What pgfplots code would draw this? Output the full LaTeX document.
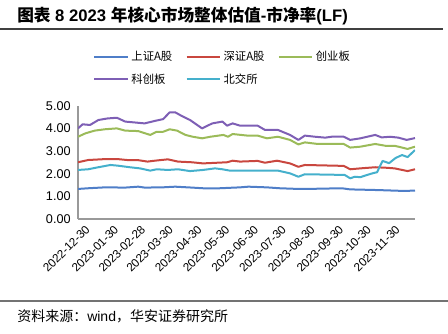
\documentclass[border=0pt]{standalone}
\usepackage{fontspec}
\setmainfont{Liberation Sans}
\newfontfamily\cjk{Noto Sans CJK SC}
\newfontfamily\cjkb{Noto Sans CJK SC Bold}
\usepackage{pgfplots}
\pgfplotsset{compat=1.18}
\definecolor{cBlue}{HTML}{4F7EC8}
\definecolor{cRed}{HTML}{C9473F}
\definecolor{cGreen}{HTML}{9BBB59}
\definecolor{cPurple}{HTML}{7E5FB5}
\definecolor{cCyan}{HTML}{45B0CC}
\begin{document}
\begin{tikzpicture}
\path[use as bounding box] (0,0) rectangle (336pt,250.5pt);
\node[anchor=west, inner sep=0pt, font=\fontsize{12.5}{14}\selectfont\bfseries] at (12.75pt,238.5pt)
 {{\cjkb 图表} 8 2023 {\cjkb 年核心市场整体估值}-{\cjkb 市净率}(LF)};
\draw[line width=1.1pt, black!75] (0pt,228.75pt) -- (332.25pt,228.75pt);
\draw[line width=0.9pt, black!55] (0pt,24.75pt) -- (336pt,24.75pt);
\node[anchor=west, inner sep=0pt, font=\fontsize{10.5}{12}\selectfont] at (12.75pt,13.5pt)
 {{\cjk 资料来源：}wind{\cjk ，华安证券研究所}};
\begin{axis}[
  at={(58.5pt,86.25pt)}, anchor=south west,
  width=252.75pt, height=84.75pt, scale only axis,
  xmin=0, xmax=364, ymin=0, ymax=5,
  axis x line=bottom, axis y line=left,
  axis line style={-, draw=black!40, line width=0.8pt},
  major tick length=0pt,
  ytick={0,1,2,3,4,5},
  /pgf/number format/fixed, /pgf/number format/fixed zerofill, /pgf/number format/precision=2,
  /pgf/number format/assume math mode=true,
  yticklabel style={font=\fontsize{9.5}{11}\selectfont, xshift=-2pt},
  xtick={0,31,60,90,121,151,182,212,243,274,304,335},
  xticklabels={2022-12-30,2023-01-30,2023-02-28,2023-03-30,2023-04-30,2023-05-30,2023-06-30,2023-07-30,2023-08-30,2023-09-30,2023-10-30,2023-11-30},
  xticklabel style={rotate=45, anchor=north east, font=\fontsize{8.8}{10}\selectfont, xshift=4pt, yshift=-3pt},
  legend columns=3,
  legend style={draw=none, fill=none, at={(axis description cs:0.045,1.51)}, anchor=north west,
    font=\cjk\fontsize{8.5}{10}\selectfont, inner sep=0pt,
    /tikz/every even column/.append style={column sep=8pt}, row sep=4pt},
  legend cell align=left,
  legend image code/.code={\draw[#1] (0pt,0pt) -- (25pt,0pt);},
  every axis plot/.append style={line width=1.5pt, line join=round},
]
\addplot[cBlue] coordinates {(0,1.33) (11,1.36) (29,1.40) (51,1.39) (65,1.43) (72,1.39) (91,1.40) (105,1.43) (123,1.39) (135,1.36) (153,1.36) (175,1.40) (184,1.43) (204,1.40) (218,1.36) (238,1.33) (247,1.33) (285,1.36) (294,1.31) (324,1.28) (353,1.24) (364,1.26)};
\addlegendentry{上证A股}
\addplot[cRed] coordinates {(0,2.51) (11,2.61) (29,2.65) (43,2.65) (53,2.61) (64,2.61) (75,2.54) (83,2.58) (97,2.64) (108,2.54) (123,2.51) (135,2.46) (161,2.51) (167,2.58) (175,2.54) (194,2.57) (202,2.49) (215,2.58) (229,2.46) (238,2.31) (245,2.39) (287,2.35) (294,2.20) (305,2.24) (321,2.29) (332,2.27) (342,2.24) (356,2.12) (364,2.20)};
\addlegendentry{深证A股}
\addplot[cGreen] coordinates {(0,3.64) (8,3.79) (18,3.91) (29,3.97) (42,4.01) (51,3.91) (65,3.89) (78,3.72) (85,3.86) (92,3.86) (99,3.97) (107,3.91) (116,3.72) (124,3.64) (134,3.57) (143,3.64) (157,3.72) (162,3.64) (167,3.76) (183,3.69) (194,3.69) (204,3.57) (216,3.64) (229,3.50) (238,3.30) (245,3.39) (259,3.32) (287,3.32) (294,3.16) (305,3.20) (321,3.32) (332,3.24) (342,3.24) (356,3.10) (364,3.20)};
\addlegendentry{创业板}
\addplot[cPurple] coordinates {(0,4.01) (5,4.19) (13,4.16) (22,4.38) (32,4.45) (42,4.48) (51,4.31) (59,4.28) (72,4.23) (83,4.34) (92,4.42) (99,4.72) (105,4.72) (112,4.56) (121,4.38) (134,4.01) (145,4.23) (156,4.31) (161,4.13) (167,4.23) (175,4.13) (194,4.13) (202,3.94) (216,3.94) (229,3.72) (238,3.50) (245,3.69) (256,3.64) (267,3.60) (274,3.64) (287,3.64) (294,3.50) (305,3.57) (321,3.72) (328,3.61) (337,3.64) (346,3.60) (355,3.50) (364,3.58)};
\addlegendentry{科创板}
\addplot[cCyan] coordinates {(0,2.17) (11,2.20) (22,2.29) (35,2.39) (43,2.36) (56,2.29) (67,2.24) (78,2.14) (85,2.20) (97,2.17) (108,2.20) (121,2.12) (135,2.17) (148,2.24) (156,2.20) (164,2.14) (193,2.14) (216,2.14) (229,2.02) (238,1.87) (245,1.98) (288,1.95) (294,1.80) (299,1.87) (305,1.85) (310,1.92) (318,2.02) (323,2.07) (329,2.57) (336,2.47) (343,2.70) (350,2.83) (356,2.74) (364,3.05)};
\addlegendentry{北交所}
\end{axis}
\end{tikzpicture}
\end{document}
